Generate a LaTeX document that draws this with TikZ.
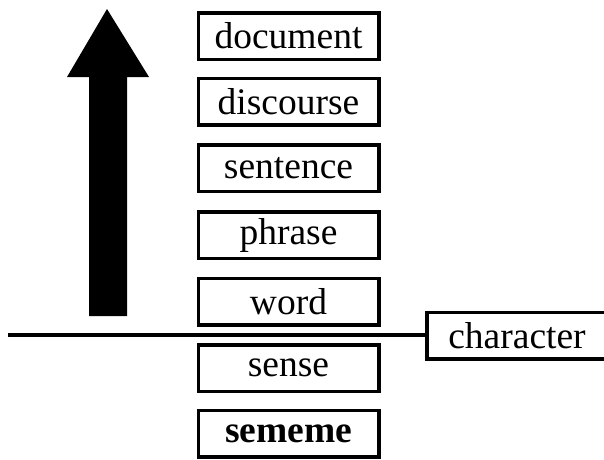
\documentclass[tikz,border=0pt]{standalone}
\usepackage{fontspec}
\setmainfont{Liberation Serif}
\begin{document}
\begin{tikzpicture}[x=1pt,y=-1pt,
  box/.style={draw, line width=3.5pt, minimum width=180.5pt, minimum height=46.5pt, inner sep=0pt, font=\fontsize{37.5}{42}\selectfont},
  bigarrow/.style={fill=black, draw=none},
  rule/.style={line width=3.5pt}]
\useasboundingbox (0,0) rectangle (604,459);
\node[box] (document) at (288.5,36) {document};
\node[box] (discourse) at (288.5,101.5) {discourse};
\node[box] (sentence) at (288.5,168) {sentence};
\node[box] (phrase) at (288.5,235) {phrase};
\node[box] (word) at (288.5,301.5) {word};
\node[box] (sense) at (288.5,368) {sense};
\node[box] (sememe) at (288.5,433.5) {\textbf{sememe}};
\node[box] (character) at (517,335.5) {character};
\coordinate (lstart) at (8,335);
\draw[rule] (lstart) -- (lstart -| character.west);
\fill[bigarrow] (107,9) -- (149,77) -- (127,77) -- (127,316) -- (89,316) -- (89,77) -- (67,77) -- cycle;
\end{tikzpicture}
\end{document}
